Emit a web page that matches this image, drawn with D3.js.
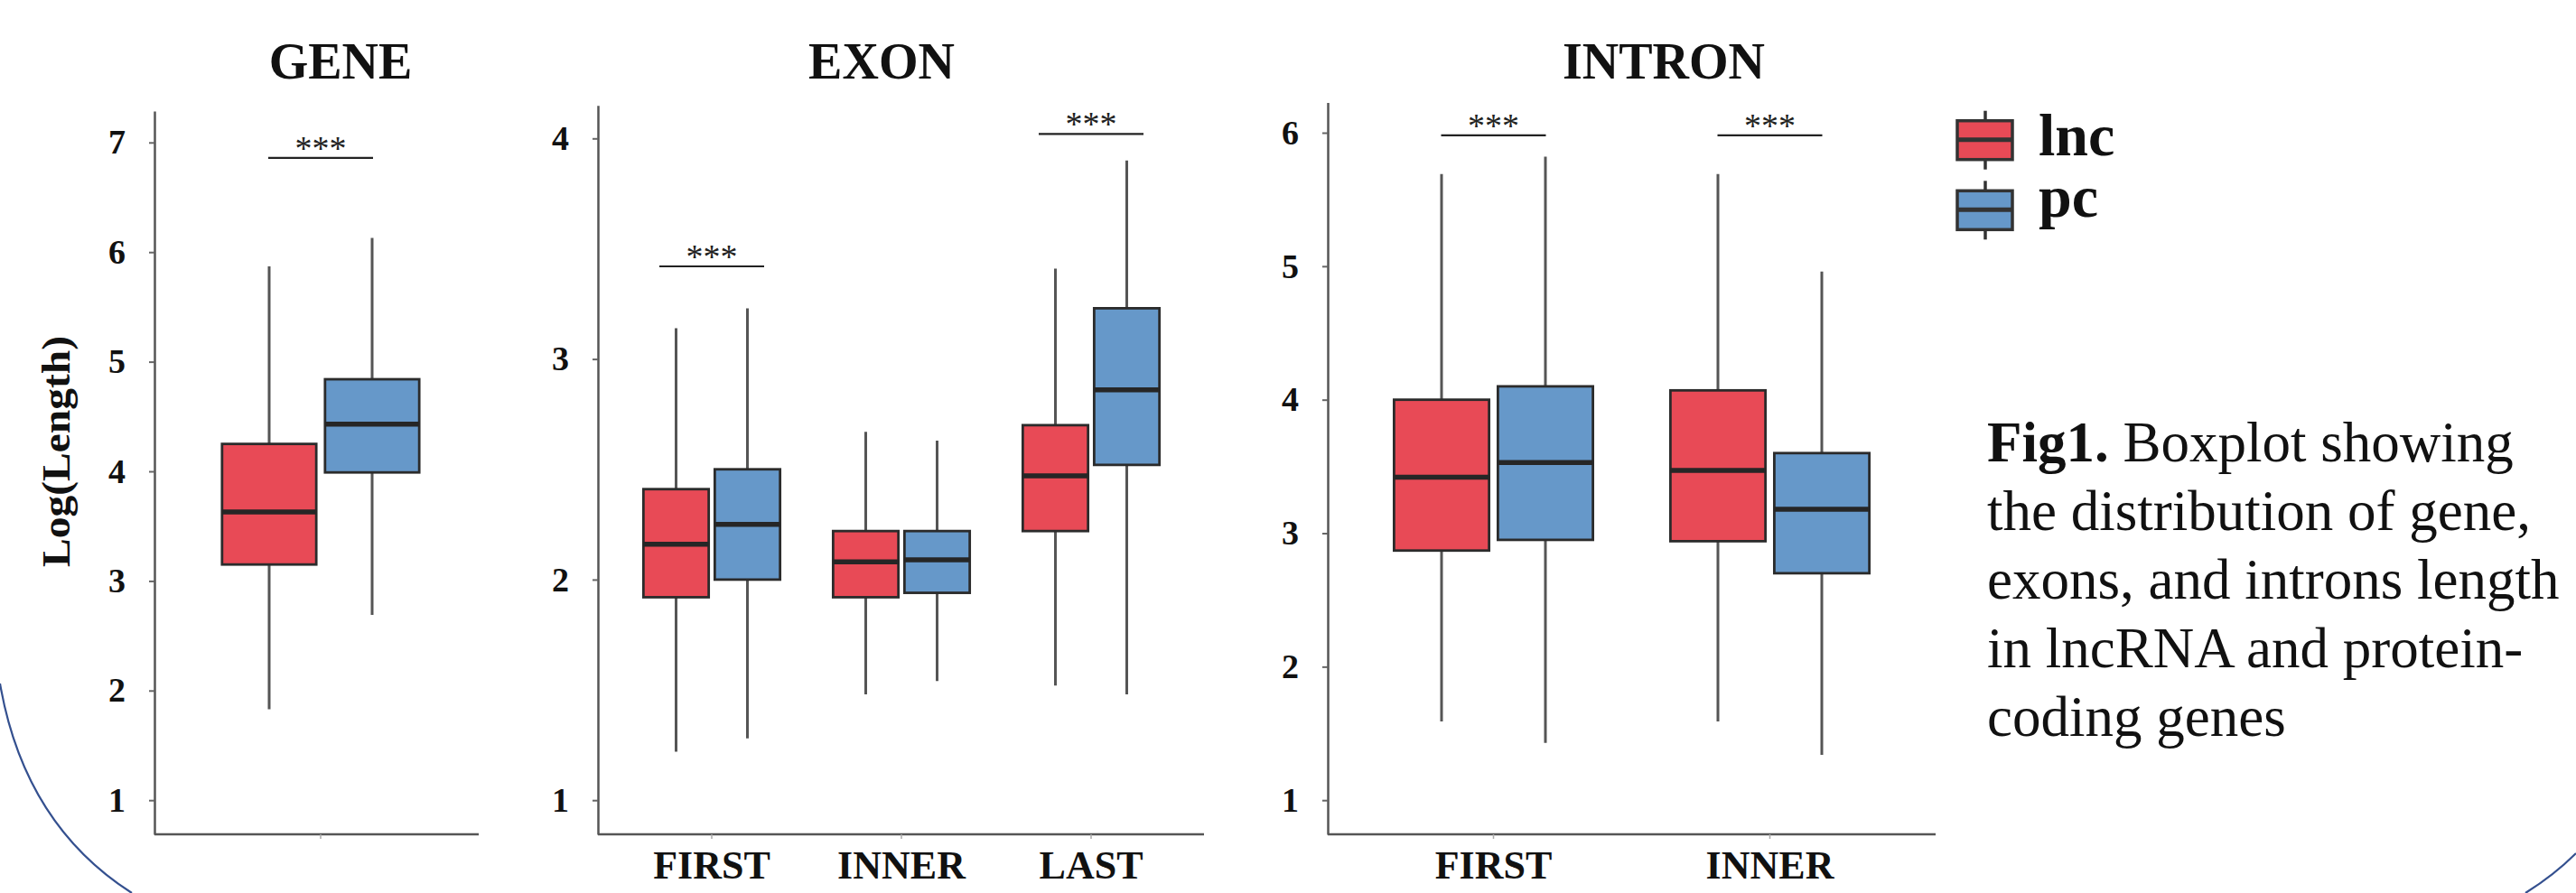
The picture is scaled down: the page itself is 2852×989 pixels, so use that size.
<!DOCTYPE html>
<html>
<head>
<meta charset="utf-8">
<script src="https://cdn.jsdelivr.net/npm/d3@7"></script>
<style>
  html, body { margin: 0; padding: 0; background: #fff; }
  svg { display: block; }
  text { font-family: "Liberation Serif", "Times New Roman", serif; }
</style>
</head>
<body>
<svg id="chart" width="2852" height="989"></svg>
<script>
// groups and categories
const groups = ["lnc", "pc"];
const geneCats = [""];
const exonCats = ["FIRST", "INNER", "LAST"];
const intronCats = ["FIRST", "INNER"];

// box stats per category: [low whisker, Q1, median, Q3, high whisker]
const geneLnc = [[1.83, 3.15, 3.63, 4.25, 5.87]];
const genePc = [[2.69, 3.99, 4.43, 4.84, 6.13]];
const exonLnc = [[1.22, 1.92, 2.16, 2.41, 3.14], [1.48, 1.92, 2.08, 2.22, 2.67], [1.52, 2.22, 2.47, 2.70, 3.41]];
const exonPc = [[1.28, 2.00, 2.25, 2.50, 3.23], [1.54, 1.94, 2.09, 2.22, 2.63], [1.48, 2.52, 2.86, 3.23, 3.90]];
const intronLnc = [[1.59, 2.87, 3.42, 4.00, 5.69], [1.59, 2.94, 3.47, 4.07, 5.69]];
const intronPc = [[1.43, 2.95, 3.53, 4.10, 5.82], [1.34, 2.70, 3.18, 3.60, 4.96]];

// significance bars: category and height
const geneSig = [["", 6.86]];
const exonSig = [["FIRST", 3.42], ["LAST", 4.02]];
const intronSig = [["FIRST", 5.98], ["INNER", 5.98]];

// y tick labels
const geneTicks = [1, 2, 3, 4, 5, 6, 7];
const exonTicks = [1, 2, 3, 4];
const intronTicks = [1, 2, 3, 4, 5, 6];

const colors = { lnc: "#e84a56", pc: "#6698c9" };

const caption = ["the distribution of gene,", "exons, and introns length", "in lncRNA and protein-", "coding genes"];

// layout of each panel (pixels)
const panels = [
  { title: "GENE", cats: geneCats, lnc: geneLnc, pc: genePc, sig: geneSig, ticks: geneTicks,
    axisX: [171, 530], band: [240, 470], sub: 114, yTop: 123, yDomain: [0.6886, 7.2867], titleX: 377 },
  { title: "EXON", cats: exonCats, lnc: exonLnc, pc: exonPc, sig: exonSig, ticks: exonTicks,
    axisX: [662, 1333], band: [683, 1313], sub: 79, yTop: 116.7, yDomain: [0.8453, 4.1498], titleX: 976 },
  { title: "INTRON", cats: intronCats, lnc: intronLnc, pc: intronPc, sig: intronSig, ticks: intronTicks,
    axisX: [1470, 2143], band: [1500.5, 2112.5], sub: 115, yTop: 113.5, yDomain: [0.7443, 6.2266], titleX: 1842 }
];

const svg = d3.select("#chart");
const baseY = 924;

// background decoration arcs
const deco = d3.path();
deco.moveTo(0, 757);
deco.quadraticCurveTo(27, 913, 146, 989);
deco.moveTo(2796, 989);
deco.quadraticCurveTo(2828, 969, 2852, 945);
svg.append("path").attr("d", deco.toString())
  .attr("fill", "none").attr("stroke", "#34508f").attr("stroke-width", 2.2);

panels.forEach(p => {
  const g = svg.append("g");
  const y = d3.scaleLinear().domain(p.yDomain).range([baseY, p.yTop]);
  const x = d3.scaleBand().domain(p.cats).range(p.band);
  const xs = d3.scaleBand().domain(groups).range([-p.sub, p.sub]);
  const boxW = xs.bandwidth() * 0.915;

  // title
  g.append("text").attr("x", p.titleX).attr("y", 87)
    .attr("text-anchor", "middle").attr("font-size", 56).attr("font-weight", "bold")
    .attr("fill", "#111").text(p.title);

  // y axis
  const ya = g.append("g").attr("transform", `translate(${p.axisX[0]},0)`)
    .call(d3.axisLeft(y).tickValues(p.ticks).tickFormat(d3.format("d")).tickSize(6).tickSizeOuter(0).tickPadding(26));
  ya.select(".domain").attr("stroke", "#555").attr("stroke-width", 2.5);
  ya.selectAll(".tick line").attr("stroke", "#666").attr("stroke-width", 2);
  ya.selectAll(".tick text").attr("font-size", 38).attr("font-weight", "bold")
    .attr("font-family", "Liberation Serif, serif").attr("fill", "#111");

  // x axis line and ticks
  g.append("line").attr("x1", p.axisX[0]).attr("x2", p.axisX[1])
    .attr("y1", baseY).attr("y2", baseY).attr("stroke", "#555").attr("stroke-width", 2.5);
  const xa = g.append("g").attr("transform", `translate(0,${baseY})`)
    .call(d3.axisBottom(x).tickSize(5).tickPadding(13));
  xa.select(".domain").remove();
  xa.selectAll(".tick line").attr("stroke", "#aaa").attr("stroke-width", 1.5);
  xa.selectAll(".tick text").attr("font-size", 44).attr("font-weight", "bold")
    .attr("font-family", "Liberation Serif, serif").attr("fill", "#111");

  // boxes
  const boxes = [];
  p.cats.forEach((c, i) => {
    groups.forEach(gr => boxes.push({ cat: c, group: gr, s: p[gr][i] }));
  });
  const bx = d => x(d.cat) + x.bandwidth() / 2 + xs(d.group) + xs.bandwidth() / 2;

  const bg = g.selectAll(".box").data(boxes).enter().append("g").attr("class", "box");
  bg.append("line").attr("x1", bx).attr("x2", bx)
    .attr("y1", d => y(d.s[0])).attr("y2", d => y(d.s[4]))
    .attr("stroke", "#555").attr("stroke-width", 3);
  bg.append("rect").attr("x", d => bx(d) - boxW / 2).attr("width", boxW)
    .attr("y", d => y(d.s[3])).attr("height", d => y(d.s[1]) - y(d.s[3]))
    .attr("fill", d => colors[d.group]).attr("stroke", "#2b2b2b").attr("stroke-width", 2.8);
  bg.append("line").attr("x1", d => bx(d) - boxW / 2).attr("x2", d => bx(d) + boxW / 2)
    .attr("y1", d => y(d.s[2])).attr("y2", d => y(d.s[2]))
    .attr("stroke", "#262626").attr("stroke-width", 5.5);

  // significance marks
  const sg = g.selectAll(".sig").data(p.sig).enter().append("g").attr("class", "sig");
  sg.append("line")
    .attr("x1", d => x(d[0]) + x.bandwidth() / 2 - 58)
    .attr("x2", d => x(d[0]) + x.bandwidth() / 2 + 58)
    .attr("y1", d => y(d[1])).attr("y2", d => y(d[1]))
    .attr("stroke", "#222").attr("stroke-width", 2.2);
  sg.append("text").attr("x", d => x(d[0]) + x.bandwidth() / 2).attr("y", d => y(d[1]) + 2)
    .attr("text-anchor", "middle").attr("font-size", 38).attr("fill", "#222").text("***");
});

// y label
svg.append("text").attr("transform", "translate(62,500) rotate(-90)")
  .attr("text-anchor", "middle").attr("dominant-baseline", "central")
  .attr("font-size", 44).attr("font-weight", "bold").attr("fill", "#111")
  .attr("textLength", 256).attr("lengthAdjust", "spacingAndGlyphs")
  .text("Log(Length)");

// legend
const lg = svg.selectAll(".leg").data(groups).enter().append("g").attr("class", "leg")
  .attr("transform", (d, i) => `translate(2167,${133.7 + i * 77.6})`);
lg.append("line").attr("x1", 31).attr("x2", 31).attr("y1", -11).attr("y2", 54)
  .attr("stroke", "#333").attr("stroke-width", 3.5);
lg.append("rect").attr("width", 61).attr("height", 43)
  .attr("fill", d => colors[d]).attr("stroke", "#333").attr("stroke-width", 3.5);
lg.append("line").attr("x1", 0).attr("x2", 61).attr("y1", 21).attr("y2", 21)
  .attr("stroke", "#333").attr("stroke-width", 5);
lg.append("text").attr("x", 90).attr("y", (d, i) => 38 - i * 9.5)
  .attr("font-size", 66).attr("font-weight", "bold").attr("fill", "#111").text(d => d);

// caption
const cap = svg.append("text").attr("font-size", 63).attr("fill", "#111");
const first = cap.append("tspan").attr("x", 2200).attr("y", 511);
first.append("tspan").attr("font-weight", "bold").text("Fig1.");
first.append("tspan").text(" Boxplot showing");
caption.forEach((t, i) => {
  cap.append("tspan").attr("x", 2200).attr("y", 511 + (i + 1) * 76).text(t);
});
</script>
</body>
</html>
